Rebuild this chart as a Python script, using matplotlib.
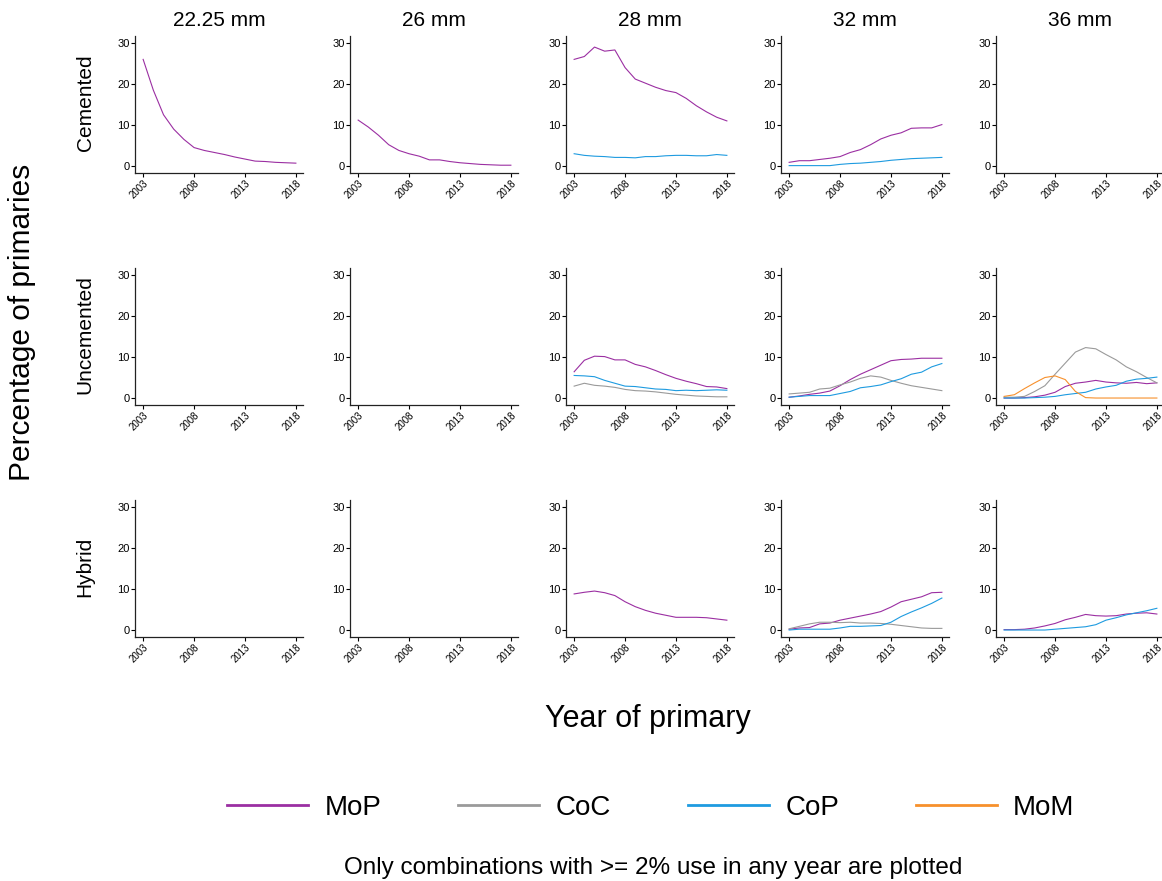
import numpy as np
import matplotlib
matplotlib.use("Agg")
import matplotlib.pyplot as plt
from matplotlib.lines import Line2D

plt.rcParams['font.family'] = ['Liberation Sans', 'DejaVu Sans']

years = np.arange(2003, 2019)
head_sizes = ['22.25 mm', '26 mm', '28 mm', '32 mm', '36 mm']
fixations = ['Cemented', 'Uncemented', 'Hybrid']
bearings = ['MoP', 'CoC', 'CoP', 'MoM']
colors = {'MoP': '#9B2FA2', 'CoC': '#9A9A9A', 'CoP': '#1E9BE0', 'MoM': '#F7902C'}

# Cemented
cem_2225_mop = [26.0, 18.5, 12.5, 9.0, 6.5, 4.5, 3.8, 3.3, 2.8, 2.2, 1.7, 1.2, 1.1, 0.9, 0.8, 0.7]
cem_26_mop = [11.2, 9.5, 7.5, 5.2, 3.8, 3.0, 2.4, 1.5, 1.5, 1.1, 0.8, 0.6, 0.4, 0.3, 0.2, 0.2]
cem_28_mop = [26.0, 26.7, 29.0, 28.0, 28.3, 24.0, 21.2, 20.2, 19.2, 18.4, 17.9, 16.5, 14.7, 13.2, 11.9, 11.0]
cem_28_cop = [3.0, 2.6, 2.4, 2.3, 2.1, 2.1, 2.0, 2.3, 2.3, 2.5, 2.6, 2.6, 2.5, 2.5, 2.8, 2.6]
cem_32_mop = [0.9, 1.3, 1.3, 1.6, 1.9, 2.3, 3.3, 4.0, 5.2, 6.6, 7.5, 8.1, 9.2, 9.3, 9.3, 10.1]
cem_32_cop = [0.1, 0.1, 0.1, 0.1, 0.1, 0.4, 0.6, 0.7, 0.9, 1.1, 1.4, 1.6, 1.8, 1.9, 2.0, 2.1]

# Uncemented
unc_28_mop = [6.4, 9.2, 10.2, 10.1, 9.3, 9.3, 8.2, 7.6, 6.7, 5.7, 4.8, 4.1, 3.5, 2.8, 2.7, 2.3]
unc_28_coc = [2.9, 3.6, 3.1, 2.9, 2.6, 2.1, 1.8, 1.7, 1.5, 1.2, 0.9, 0.7, 0.5, 0.4, 0.3, 0.3]
unc_28_cop = [5.5, 5.4, 5.2, 4.3, 3.6, 2.9, 2.8, 2.5, 2.2, 2.1, 1.8, 1.9, 1.8, 1.9, 2.0, 1.9]
unc_32_mop = [0.2, 0.5, 0.9, 1.2, 1.7, 3.0, 4.5, 5.8, 6.9, 8.0, 9.1, 9.4, 9.5, 9.7, 9.7, 9.7]
unc_32_coc = [1.0, 1.2, 1.4, 2.2, 2.4, 3.2, 3.9, 4.8, 5.4, 5.1, 4.3, 3.6, 3.0, 2.6, 2.2, 1.8]
unc_32_cop = [0.2, 0.4, 0.6, 0.6, 0.6, 1.1, 1.6, 2.5, 2.8, 3.2, 4.0, 4.7, 5.8, 6.3, 7.6, 8.4]
unc_36_mop = [0.0, 0.0, 0.1, 0.3, 0.7, 1.4, 2.8, 3.6, 3.9, 4.3, 3.9, 3.7, 3.6, 3.8, 3.5, 3.7]
unc_36_coc = [0.2, 0.2, 0.4, 1.6, 3.0, 5.8, 8.5, 11.2, 12.3, 12.0, 10.6, 9.3, 7.6, 6.4, 5.0, 3.7]
unc_36_cop = [0.0, 0.0, 0.0, 0.1, 0.2, 0.4, 0.8, 1.1, 1.4, 2.2, 2.7, 3.1, 4.1, 4.6, 4.8, 5.1]
unc_36_mom = [0.4, 0.8, 2.3, 3.7, 5.0, 5.4, 4.5, 1.6, 0.1, 0.0, 0.0, 0.0, 0.0, 0.0, 0.0, 0.0]

# Hybrid
hyb_28_mop = [8.8, 9.2, 9.5, 9.1, 8.4, 6.9, 5.7, 4.8, 4.1, 3.6, 3.1, 3.1, 3.1, 3.0, 2.7, 2.4]
hyb_32_mop = [0.2, 0.5, 0.6, 1.5, 1.7, 2.4, 2.9, 3.4, 3.9, 4.5, 5.6, 6.9, 7.5, 8.1, 9.1, 9.2]
hyb_32_coc = [0.3, 0.9, 1.5, 1.9, 1.9, 1.8, 1.9, 1.7, 1.7, 1.6, 1.4, 1.1, 0.8, 0.5, 0.4, 0.4]
hyb_32_cop = [0.0, 0.2, 0.2, 0.2, 0.2, 0.5, 0.9, 0.9, 1.0, 1.1, 1.9, 3.3, 4.4, 5.4, 6.5, 7.8]
hyb_36_mop = [0.1, 0.1, 0.2, 0.5, 1.0, 1.6, 2.5, 3.1, 3.8, 3.5, 3.4, 3.5, 3.9, 4.1, 4.2, 3.9]
hyb_36_cop = [0.0, 0.0, 0.0, 0.0, 0.0, 0.2, 0.4, 0.6, 0.8, 1.3, 2.4, 3.0, 3.7, 4.2, 4.7, 5.3]

# (row, col) -> list of (bearing, values)
panels = {
    (0, 0): [('MoP', cem_2225_mop)],
    (0, 1): [('MoP', cem_26_mop)],
    (0, 2): [('MoP', cem_28_mop), ('CoP', cem_28_cop)],
    (0, 3): [('MoP', cem_32_mop), ('CoP', cem_32_cop)],
    (1, 2): [('MoP', unc_28_mop), ('CoC', unc_28_coc), ('CoP', unc_28_cop)],
    (1, 3): [('MoP', unc_32_mop), ('CoC', unc_32_coc), ('CoP', unc_32_cop)],
    (1, 4): [('MoP', unc_36_mop), ('CoC', unc_36_coc), ('CoP', unc_36_cop), ('MoM', unc_36_mom)],
    (2, 2): [('MoP', hyb_28_mop)],
    (2, 3): [('MoP', hyb_32_mop), ('CoC', hyb_32_coc), ('CoP', hyb_32_cop)],
    (2, 4): [('MoP', hyb_36_mop), ('CoP', hyb_36_cop)],
}

W, H = 1162, 881
fig = plt.figure(figsize=(W / 100, H / 100), dpi=100)

col_left = [135, 350, 566, 781, 996]
row_top = [36, 268, 500]
ax_w, ax_h = 168, 137

for r in range(3):
    for c in range(5):
        ax = fig.add_axes([col_left[c] / W, 1 - (row_top[r] + ax_h) / H, ax_w / W, ax_h / H])
        for name, vals in panels.get((r, c), []):
            ax.plot(years, vals, color=colors[name], lw=0.8)
        ax.set_xlim(2002.2, 2018.7)
        ax.set_ylim(-1.7, 31.7)
        ax.set_xticks([2003, 2008, 2013, 2018])
        ax.set_yticks([0, 10, 20, 30])
        ax.tick_params(axis='x', labelsize=7, length=3, width=0.8, pad=1)
        ax.tick_params(axis='y', labelsize=8, length=3, width=0.8, pad=1)
        for lbl in ax.get_xticklabels():
            lbl.set_rotation(45)
            lbl.set_ha('right')
            lbl.set_rotation_mode('anchor')
        for s in ['top', 'right']:
            ax.spines[s].set_visible(False)
        for s in ['left', 'bottom']:
            ax.spines[s].set_linewidth(0.9)
            ax.spines[s].set_color('#222222')
        if r == 0:
            ax.set_title(head_sizes[c], fontsize=15, pad=7)

for r, name in enumerate(fixations):
    yc = row_top[r] + ax_h / 2 - 2
    fig.text(85 / W, 1 - yc / H, name, rotation=90, fontsize=15, ha='center', va='center')

fig.text(22 / W, 1 - 322 / H, 'Percentage of primaries', rotation=90, fontsize=21.5,
         ha='center', va='center')
fig.text(648 / W, 1 - 719 / H, 'Year of primary', fontsize=22, ha='center', va='center')

handles = [Line2D([], [], color=colors[b], lw=2) for b in bearings]
fig.legend(handles, bearings, loc='center', bbox_to_anchor=(651 / W, 1 - 808 / H),
           ncol=4, frameon=False, fontsize=20, handlelength=2.9, handletextpad=0.6,
           columnspacing=2.77)

fig.text(653 / W, 1 - 868 / H, 'Only combinations with >= 2% use in any year are plotted',
         fontsize=17.5, ha='center', va='center')

fig.savefig('out.png', dpi=100)
